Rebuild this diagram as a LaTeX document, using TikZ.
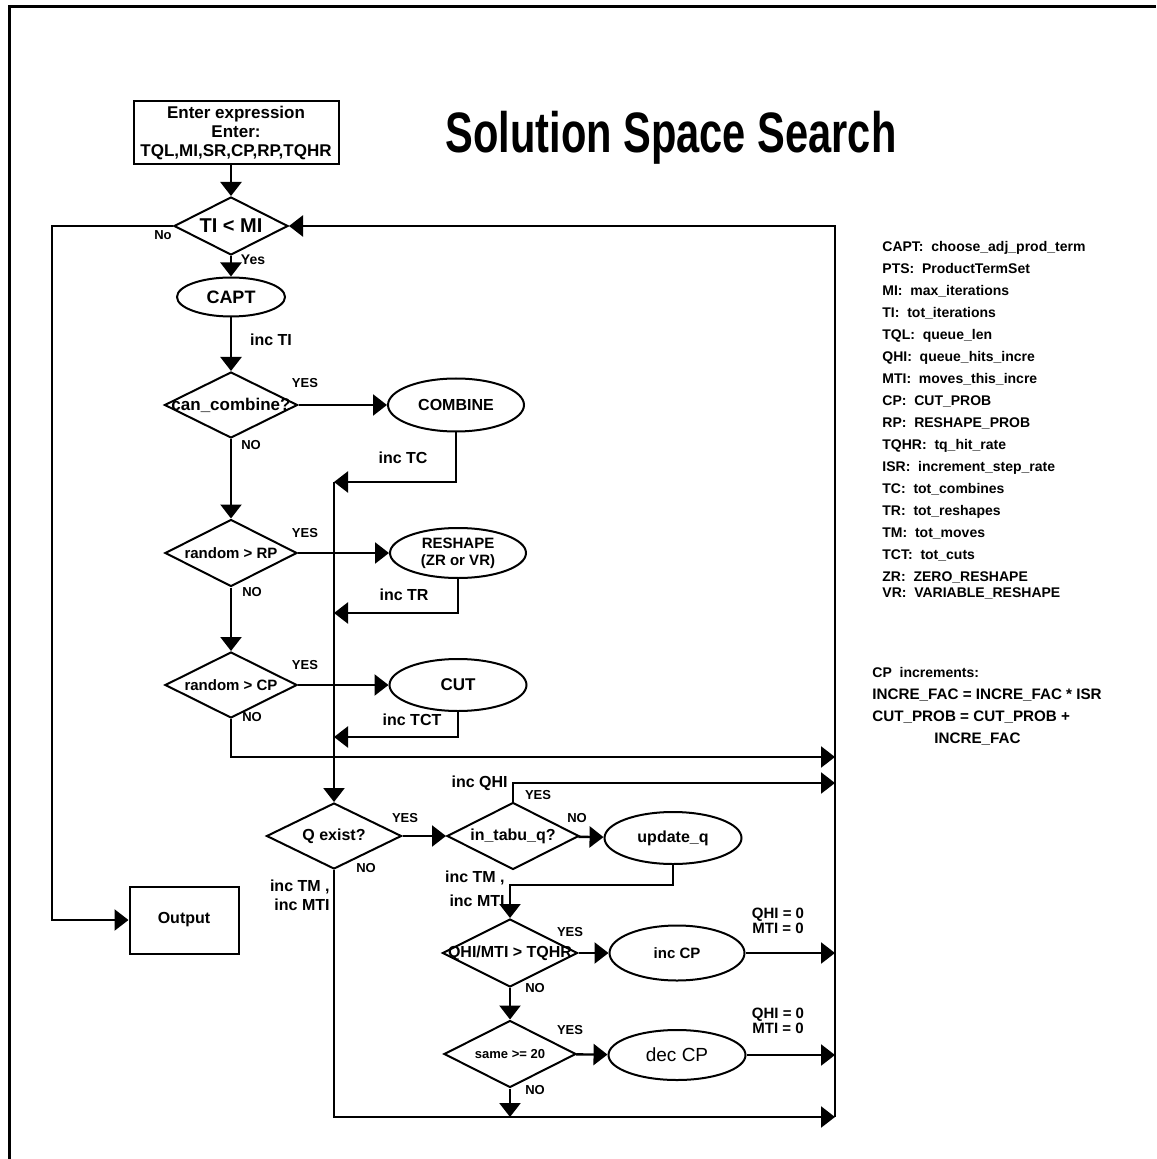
\documentclass[tikz,border=0pt]{standalone}
\usepackage{fontspec}
\setmainfont{Liberation Sans}
\newfontfamily\titlefont[FakeStretch=0.73]{Liberation Sans}
\usetikzlibrary{arrows.meta,shapes.geometric}
\newcommand{\zw}[1]{\makebox[0pt]{#1}}

\begin{document}
\begin{tikzpicture}[x=0.5pt,y=-0.5pt]
\tikzset{
  decision/.style={diamond,draw,line width=1pt,inner sep=0pt,font=\bfseries\fontsize{8}{9}\selectfont},
  process/.style={ellipse,draw,line width=1pt,inner sep=0pt,align=center,font=\bfseries\fontsize{8}{9}\selectfont},
  iobox/.style={rectangle,draw,line width=1pt,inner sep=0pt,align=center,font=\bfseries\fontsize{8.5}{9.5}\selectfont},
  flow/.style={-{Triangle[length=7pt,width=10.5pt]},line width=1.2pt},
  answer/.style={inner sep=0pt,font=\bfseries\fontsize{6.5}{7}\selectfont},
  note/.style={inner sep=0pt,align=center,font=\bfseries\fontsize{8}{9}\selectfont}
}
\useasboundingbox (0,0) rectangle (1156,1159);
\draw[line width=1.5pt] (9,1159) -- (9,7) -- (1156,7);

\node[inner sep=0pt,anchor=base,font=\titlefont\bfseries\fontsize{28.5}{30}\selectfont] (title) at (671,153) {Solution Space Search};

\node[iobox,minimum width=102.5pt,minimum height=31.5pt] (enter) at (236,133) {Enter expression\\Enter:\\TQL,MI,SR,CP,RP,TQHR};
\node[decision,minimum width=57pt,minimum height=29pt,font=\bfseries\fontsize{10}{11}\selectfont] (timi) at (231,226) {\zw{TI < MI}};
\node[process,minimum width=54pt,minimum height=19.5pt,font=\bfseries\fontsize{9}{10}\selectfont] (capt) at (231,297) {CAPT};
\node[decision,minimum width=66.5pt,minimum height=33pt,font=\bfseries\fontsize{8.5}{9}\selectfont] (canc) at (231,405) {\zw{can\_combine?}};
\node[process,minimum width=68pt,minimum height=26.5pt] (combine) at (456,405) {COMBINE};
\node[decision,minimum width=66pt,minimum height=33.5pt,font=\bfseries\fontsize{7.5}{8}\selectfont] (rrp) at (231,553) {\zw{random > RP}};
\node[process,minimum width=68pt,minimum height=25pt,font=\bfseries\fontsize{7.5}{8.5}\selectfont] (reshape) at (458,553) {RESHAPE\\(ZR or VR)};
\node[decision,minimum width=66pt,minimum height=33pt,font=\bfseries\fontsize{7.5}{8}\selectfont] (rcp) at (231,685) {\zw{random > CP}};
\node[process,minimum width=68.5pt,minimum height=26pt,font=\bfseries\fontsize{8.5}{9}\selectfont] (cut) at (458,685) {CUT};
\node[decision,minimum width=67.5pt,minimum height=33pt] (qex) at (334,836) {\zw{Q exist?}};
\node[decision,minimum width=66pt,minimum height=33.5pt] (tabu) at (513,836) {\zw{in\_tabu\_q?}};
\node[process,minimum width=68.5pt,minimum height=26pt] (update) at (673,838) {update\_q};
\node[decision,minimum width=67.5pt,minimum height=34pt] (ratio) at (510,953) {\zw{QHI/MTI > TQHR}};
\node[process,minimum width=67.5pt,minimum height=27.5pt,font=\bfseries\fontsize{7.5}{8}\selectfont] (inccp) at (677,953) {inc CP};
\node[decision,minimum width=66pt,minimum height=33.5pt,font=\bfseries\fontsize{6.5}{7}\selectfont] (same) at (510,1054) {\zw{same >= 20}};
\node[process,minimum width=68.5pt,minimum height=25pt,font=\fontsize{9.5}{10}\selectfont] (deccp) at (677,1055) {dec CP};
\node[iobox,minimum width=54.5pt,minimum height=33.5pt,font=\bfseries\fontsize{8}{9}\selectfont] (output) at (184,920) {Output};

\coordinate (merge) at (334,482);
\coordinate (mergeR) at (334,613);
\coordinate (mergeC) at (334,737);
\coordinate (exitA) at (835,757);
\coordinate (exitB) at (835,783);
\coordinate (exitC) at (835,953);
\coordinate (exitD) at (835,1055);
\coordinate (exitE) at (835,1117);
\coordinate (back) at (835,226);
\coordinate (nobend) at (52,920);
\coordinate (tmbend) at (510,885);

\draw[flow] (timi.north |- enter.south) -- (timi.north);
\draw[flow] (timi) -- (capt);
\draw[flow] (capt) -- (canc);
\draw[flow] (canc) -- (combine);
\draw[flow] (canc) -- (rrp);
\draw[flow] (rrp) -- (reshape);
\draw[flow] (rrp) -- (rcp);
\draw[flow] (rcp) -- (cut);
\draw[flow] (combine.south) |- (merge);
\draw[flow] (reshape.south) |- (mergeR);
\draw[flow] (cut.south) |- (mergeC);
\draw[flow] (rcp.south) |- (exitA);
\draw[flow] (merge) -- (qex.north);
\draw[flow] (qex) -- (tabu);
\draw[flow] (tabu.north) |- (exitB);
\draw[flow] (tabu) -- (update);
\draw[flow] (update.south) |- (tmbend) -- (ratio.north);
\draw[flow] (ratio) -- (inccp);
\draw[flow] (inccp) -- (exitC);
\draw[flow] (ratio) -- (same);
\draw[flow] (same) -- (deccp);
\draw[flow] (deccp) -- (exitD);
\draw[flow] (same.south) -- (same.south |- exitE);
\draw[flow] (qex.south) |- (exitE);
\draw[flow] (exitE) -- (back) -- (timi.east);
\draw[flow] (timi.west) -| (nobend) -- (output.west);

\node[answer,font=\bfseries\fontsize{7}{8}\selectfont] (yesTI) at (253,260) {Yes};
\node[answer] (noTI) at (163,235) {No};
\node[note] (incTI) at (271,340) {inc TI};
\node[answer] (yesCC) at (305,383) {YES};
\node[answer] (noCC) at (251,445) {NO};
\node[note] (incTC) at (403,458) {inc TC};
\node[answer] (yesRP) at (305,533) {YES};
\node[answer] (noRP) at (252,592) {NO};
\node[note] (incTR) at (404,595) {inc TR};
\node[answer] (yesCP) at (305,665) {YES};
\node[answer] (noCP) at (252,717) {NO};
\node[note] (incTCT) at (412,720) {inc TCT};
\node[answer] (yesQ) at (405,818) {YES};
\node[answer] (noQ) at (366,868) {NO};
\node[note,anchor=east] (incTMa) at (330,887) {inc TM ,};
\node[note,anchor=east] (incMTIa) at (330,905) {inc MTI};
\node[answer] (yesTQ) at (538,795) {YES};
\node[answer] (noTQ) at (577,818) {NO};
\node[note,anchor=east] (incQHI) at (508,783) {inc QHI};
\node[note,anchor=east] (incTMb) at (505,878) {inc TM ,};
\node[note,anchor=east] (incMTIb) at (505,901) {inc MTI};
\node[answer] (yesHR) at (570,932) {YES};
\node[answer] (noHR) at (535,988) {NO};
\node[note,font=\bfseries\fontsize{7.5}{7.5}\selectfont] (resetA) at (778,921) {QHI = 0\\MTI = 0};
\node[answer] (yesSM) at (570,1030) {YES};
\node[answer] (noSM) at (535,1090) {NO};
\node[note,font=\bfseries\fontsize{7.5}{7.5}\selectfont] (resetB) at (778,1021) {QHI = 0\\MTI = 0};

\node[anchor=north west,inner sep=0pt,align=left,font=\bfseries\fontsize{7}{11}\selectfont] (legend) at (882,241) {CAPT:\ \ choose\_adj\_prod\_term\\PTS:\ \ ProductTermSet\\MI:\ \ max\_iterations\\TI:\ \ tot\_iterations\\TQL:\ \ queue\_len\\QHI:\ \ queue\_hits\_incre\\MTI:\ \ moves\_this\_incre\\CP:\ \ CUT\_PROB\\RP:\ \ RESHAPE\_PROB\\TQHR:\ \ tq\_hit\_rate\\ISR:\ \ increment\_step\_rate\\TC:\ \ tot\_combines\\TR:\ \ tot\_reshapes\\TM:\ \ tot\_moves\\TCT:\ \ tot\_cuts\\ZR:\ \ ZERO\_RESHAPE\\[-3pt]VR:\ \ VARIABLE\_RESHAPE};
\node[anchor=north west,inner sep=0pt,font=\bfseries\fontsize{7}{8}\selectfont] (cphead) at (872,667) {CP\ \ increments:};
\node[anchor=north west,inner sep=0pt,align=left,font=\bfseries\fontsize{7.6}{11}\selectfont] (cpform) at (872,688) {INCRE\_FAC = INCRE\_FAC * ISR\\CUT\_PROB = CUT\_PROB +\\\hspace{31pt}INCRE\_FAC};
\end{tikzpicture}
\end{document}
